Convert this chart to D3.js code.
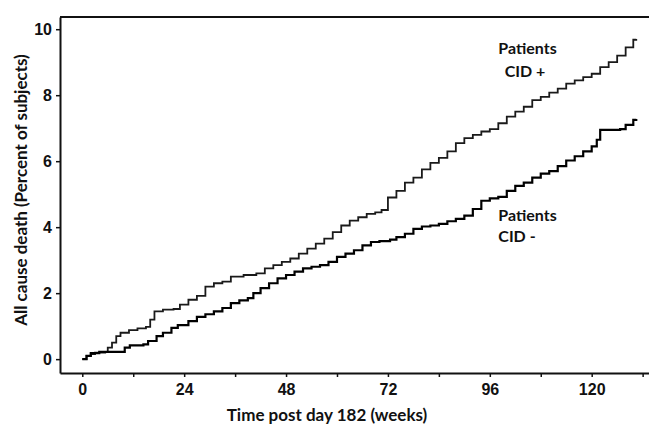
<!DOCTYPE html>
<html lang="en">
<head>
    <meta charset="UTF-8">
    <title>All cause death by CID status</title>
    <script src="https://cdnjs.cloudflare.com/ajax/libs/d3/7.8.5/d3.min.js"></script>
    <style>
        body { margin: 0; background: #fff; }
        svg { display: block; font-family: Lato, "Open Sans", sans-serif; }
        .tick text { font-size: 16px; font-weight: bold; fill: #111; }
        .axis-title { font-size: 17px; font-weight: bold; fill: #111; }
        .label { font-size: 16px; font-weight: bold; fill: #111; }
    </style>
</head>
<body>
<div id="chart"></div>
<script>
// week ticks and y ticks
const xTicks = [0, 12, 24, 36, 48, 60, 72, 84, 96, 108, 120, 132];
const yTicks = [0, 2, 4, 6, 8, 10];

// cumulative all cause death (%): [week, percent]
const cidPlus = [
    [0, 0], [1, 0.1], [2, 0.15], [3, 0.2], [5.4, 0.22], [6, 0.35], [7, 0.5], [8, 0.7],
    [9, 0.8], [11, 0.88], [13, 0.93], [15, 0.98], [16, 1.2], [17, 1.45], [19, 1.5],
    [21.5, 1.52], [23, 1.65], [25, 1.8], [27, 1.92], [29, 2.2], [31, 2.3], [33, 2.35],
    [35, 2.5], [38, 2.55], [41, 2.6], [43, 2.75], [45, 2.85], [47, 2.95], [49, 3.05],
    [51, 3.2], [53, 3.35], [55, 3.5], [57, 3.65], [59, 3.85], [61, 4.05], [63, 4.2],
    [65, 4.3], [67, 4.4], [69, 4.45], [70.5, 4.52], [72, 4.9], [74, 5.1], [76, 5.35],
    [78, 5.5], [80, 5.75], [82, 5.95], [84, 6.1], [86, 6.3], [88, 6.55], [90, 6.7],
    [92, 6.8], [94, 6.9], [96, 6.97], [98, 7.15], [100, 7.35], [102, 7.5], [104, 7.65],
    [106, 7.85], [108, 7.95], [110, 8.08], [112, 8.2], [114, 8.35], [116, 8.45],
    [118, 8.55], [120, 8.65], [122, 8.85], [124, 9.0], [126, 9.2], [128, 9.45],
    [129.8, 9.68], [130.5, 9.7]
];
const cidMinus = [
    [0, 0], [1, 0.1], [2, 0.18], [4, 0.22], [9.3, 0.22], [10, 0.35], [11.2, 0.42],
    [14.4, 0.45], [15.5, 0.55], [17.5, 0.7], [19, 0.8], [21, 0.95], [22.5, 1.03],
    [25, 1.15], [27, 1.28], [29, 1.36], [31, 1.45], [33, 1.55], [35, 1.7], [37, 1.78],
    [39, 1.85], [40.3, 2.0], [42, 2.15], [44, 2.3], [46, 2.45], [48, 2.55], [50, 2.65],
    [52, 2.75], [54, 2.8], [56, 2.85], [58, 2.95], [60, 3.1], [62, 3.2], [64, 3.3],
    [66, 3.45], [68, 3.55], [70, 3.58], [72.5, 3.62], [74, 3.7], [76, 3.8], [78, 3.95],
    [80, 4.02], [82, 4.05], [84, 4.1], [86, 4.18], [88, 4.25], [90, 4.35], [92, 4.55],
    [94, 4.8], [96, 4.87], [98, 4.92], [100, 5.1], [102, 5.25], [104, 5.35], [106, 5.5],
    [108, 5.62], [110, 5.7], [112, 5.85], [114, 6.02], [116, 6.15], [118, 6.3],
    [120, 6.45], [121.2, 6.65], [122, 6.95], [126.7, 6.97], [128, 7.1], [129.8, 7.25],
    [130.5, 7.28]
];

const W = 649, H = 424;
const plotLeft = 60, plotRight = 649, plotTop = 17, plotBottom = 373;

const svg = d3.select("#chart").append("svg")
    .attr("width", W)
    .attr("height", H);

const x = d3.scaleLinear().domain([-5.25, 133.5]).range([plotLeft, plotRight]);
const y = d3.scaleLinear().domain([-0.42, 10.37]).range([plotBottom, plotTop]);

// x axis
const xAxis = svg.append("g")
    .attr("transform", `translate(0,${plotBottom})`)
    .call(d3.axisBottom(x)
        .tickValues(xTicks)
        .tickSize(4)
        .tickSizeOuter(0)
        .tickPadding(7)
        .tickFormat(d => d % 24 === 0 ? d : ""));

// y axis
const yAxis = svg.append("g")
    .attr("transform", `translate(${plotLeft},0)`)
    .call(d3.axisLeft(y)
        .tickValues(yTicks)
        .tickSize(4)
        .tickSizeOuter(0)
        .tickPadding(4));

[xAxis, yAxis].forEach(g => {
    g.select(".domain").attr("stroke", "#111").attr("stroke-width", 2);
    g.selectAll(".tick line").attr("stroke", "#111").attr("stroke-width", 1.5);
});

// top frame line
svg.append("line")
    .attr("x1", plotLeft).attr("x2", plotRight)
    .attr("y1", plotTop).attr("y2", plotTop)
    .attr("stroke", "#111").attr("stroke-width", 2);

const line = d3.line()
    .x(d => x(d[0]))
    .y(d => y(d[1]))
    .curve(d3.curveStepAfter);

svg.append("path")
    .datum(cidPlus)
    .attr("fill", "none")
    .attr("stroke", "#1a1a1a")
    .attr("stroke-width", 1.8)
    .attr("d", line);

svg.append("path")
    .datum(cidMinus)
    .attr("fill", "none")
    .attr("stroke", "#000")
    .attr("stroke-width", 2.2)
    .attr("d", line);

// labels next to the curves
svg.append("text").attr("class", "label").attr("x", x(98)).attr("y", y(9.25)).text("Patients");
svg.append("text").attr("class", "label").attr("x", x(99.5)).attr("y", y(8.55)).text("CID +");
svg.append("text").attr("class", "label").attr("x", x(98)).attr("y", y(4.2)).text("Patients");
svg.append("text").attr("class", "label").attr("x", x(98)).attr("y", y(3.55)).text("CID -");

// axis titles
svg.append("text")
    .attr("class", "axis-title")
    .attr("x", 327)
    .attr("y", 421)
    .attr("text-anchor", "middle")
    .text("Time post day 182 (weeks)");

svg.append("text")
    .attr("class", "axis-title")
    .attr("transform", "translate(27,190) rotate(-90)")
    .attr("text-anchor", "middle")
    .text("All cause death (Percent of subjects)");
</script>
</body>
</html>
